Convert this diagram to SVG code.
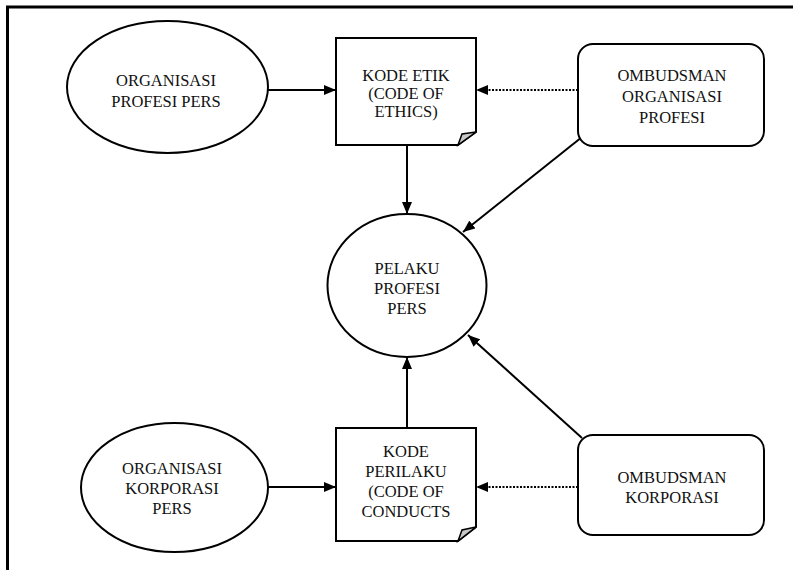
<svg xmlns="http://www.w3.org/2000/svg" width="793" height="570" viewBox="0 0 793 570">
  <defs>
    <marker id="arrow" viewBox="0 0 12 10" refX="12" refY="5" markerWidth="12" markerHeight="10" markerUnits="userSpaceOnUse" orient="auto">
      <path d="M0,0 L12,5 L0,10 z" fill="#000"/>
    </marker>
  </defs>
  <style>
    .shape { fill: #fff; stroke: #000; stroke-width: 2; }
    .fold { fill: #c8c8c8; stroke: #000; stroke-width: 1.5; }
    .lbl { font-family: "Liberation Serif", "Times New Roman", serif; font-size: 16.5px; fill: #111; text-anchor: middle; dominant-baseline: central; }
    .conn { stroke: #000; stroke-width: 2; fill: none; marker-end: url(#arrow); }
    .dot { stroke-dasharray: 2 1.5; }
  </style>

  <rect width="793" height="570" fill="#fff"/>
  <!-- frame -->
  <path d="M7.5,570 V7 H793" fill="none" stroke="#000" stroke-width="3"/>

  <!-- connectors -->
  <g id="connectors">
    <line class="conn" x1="268" y1="90" x2="336" y2="90"/>
    <line class="conn dot" x1="578" y1="90" x2="476" y2="90"/>
    <line class="conn" x1="407" y1="145" x2="407" y2="214"/>
    <line class="conn" x1="582" y1="137" x2="463" y2="232"/>
    <line class="conn" x1="268" y1="487" x2="336" y2="487"/>
    <line class="conn dot" x1="578" y1="487" x2="476" y2="487"/>
    <line class="conn" x1="407" y1="428" x2="407" y2="357"/>
    <line class="conn" x1="582" y1="438" x2="468" y2="335"/>
  </g>

  <g id="org-profesi">
    <ellipse class="shape" cx="167.5" cy="87" rx="100.5" ry="66"/>
    <text class="lbl" x="166" y="80">ORGANISASI</text>
    <text class="lbl" x="166" y="101">PROFESI PERS</text>
  </g>

  <g id="kode-etik">
    <path class="shape" d="M336,38 H476 V132 L458,145 H336 Z"/>
    <path class="fold" d="M476,132 L458,145 L462,134 Z"/>
    <text class="lbl" x="406" y="75">KODE ETIK</text>
    <text class="lbl" x="406" y="93">(CODE OF</text>
    <text class="lbl" x="406" y="111">ETHICS)</text>
  </g>

  <g id="ombudsman-org">
    <rect class="shape" x="578" y="44" width="186" height="102" rx="15"/>
    <text class="lbl" x="672" y="75">OMBUDSMAN</text>
    <text class="lbl" x="672" y="96">ORGANISASI</text>
    <text class="lbl" x="672" y="117">PROFESI</text>
  </g>

  <g id="pelaku">
    <ellipse class="shape" cx="407" cy="285.5" rx="79.5" ry="71.5"/>
    <text class="lbl" x="407" y="268">PELAKU</text>
    <text class="lbl" x="407" y="288">PROFESI</text>
    <text class="lbl" x="407" y="308">PERS</text>
  </g>

  <g id="org-korporasi">
    <ellipse class="shape" cx="174.5" cy="487.5" rx="93.5" ry="64.5"/>
    <text class="lbl" x="172" y="468">ORGANISASI</text>
    <text class="lbl" x="172" y="488">KORPORASI</text>
    <text class="lbl" x="172" y="508">PERS</text>
  </g>

  <g id="kode-perilaku">
    <path class="shape" d="M336,428 H476 V527 L458,541 H336 Z"/>
    <path class="fold" d="M476,527 L458,541 L462,530 Z"/>
    <text class="lbl" x="406" y="451">KODE</text>
    <text class="lbl" x="406" y="471">PERILAKU</text>
    <text class="lbl" x="406" y="491">(CODE OF</text>
    <text class="lbl" x="406" y="511">CONDUCTS</text>
  </g>

  <g id="ombudsman-korporasi">
    <rect class="shape" x="578" y="435" width="186" height="100" rx="15"/>
    <text class="lbl" x="672" y="477">OMBUDSMAN</text>
    <text class="lbl" x="672" y="497">KORPORASI</text>
  </g>
</svg>
